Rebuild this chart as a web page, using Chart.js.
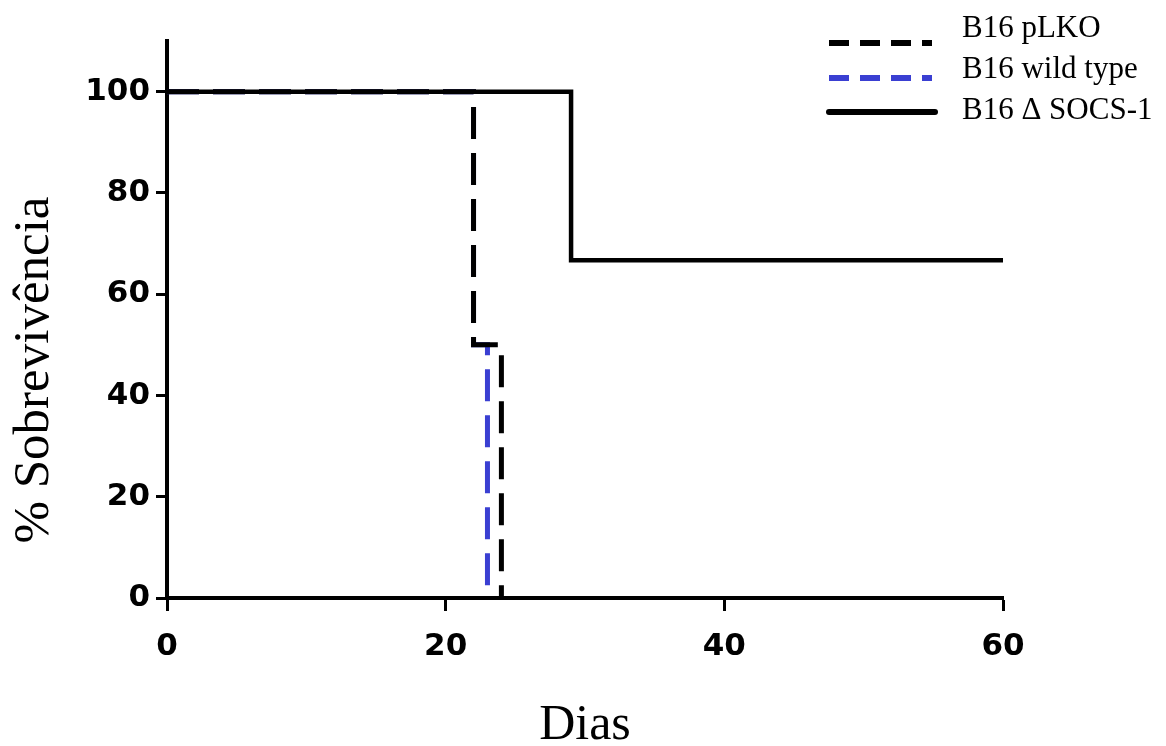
<!DOCTYPE html>
<html>
<head>
<meta charset="utf-8">
<script src="https://cdn.jsdelivr.net/npm/chart.js@4"></script>
<style>
  html, body { margin: 0; padding: 0; background: #ffffff; }
  #wrap { width: 1166px; height: 746px; position: relative; }
</style>
</head>
<body>
<div id="wrap"><canvas id="c"></canvas></div>
<script>
// ---- data (Kaplan-Meier step points: day, % survival) ----
const seriesNames = ['B16 pLKO', 'B16 wild type', 'B16 \u0394 SOCS-1'];
const pLKODays = [0, 22, 24];
const pLKOSurv = [100, 50, 0];
const wildDays = [0, 22, 23];
const wildSurv = [100, 50, 0];
const socsDays = [0, 29, 60];
const socsSurv = [100, 66.7, 66.7];
const xTicks = [0, 20, 40, 60];
const yTicks = [0, 20, 40, 60, 80, 100];
const xTitle = 'Dias';
const yTitle = '% Sobreviv\u00eancia';

const toPts = (xs, ys) => xs.map((x, i) => ({ x: x, y: ys[i] }));

const legendPlugin = {
  id: 'customLegend',
  afterDraw(chart) {
    const ctx = chart.ctx;
    const lineY = [43, 78, 112];
    const textY = [29, 70, 111];
    const legDash = [[20, 11], [20, 11], []];
    ctx.save();
    chart.data.datasets.forEach((ds, i) => {
      ctx.beginPath();
      ctx.strokeStyle = ds.borderColor;
      ctx.lineWidth = 6;
      ctx.lineCap = legDash[i].length ? 'butt' : 'round';
      ctx.setLineDash(legDash[i]);
      ctx.moveTo(829, lineY[i]);
      ctx.lineTo(i === 2 ? 935 : 932, lineY[i]);
      ctx.stroke();
      ctx.setLineDash([]);
      ctx.fillStyle = '#000';
      ctx.font = '31px "Liberation Serif", "DejaVu Serif", serif';
      ctx.textAlign = 'left';
      ctx.textBaseline = 'middle';
      ctx.fillText(ds.label, 962, textY[i]);
    });
    // y axis title
    ctx.translate(35, 370);
    ctx.rotate(-Math.PI / 2);
    ctx.font = '51px "Liberation Serif", "DejaVu Serif", serif';
    ctx.textAlign = 'center';
    ctx.textBaseline = 'middle';
    ctx.fillStyle = '#000';
    ctx.fillText(yTitle, 0, 0);
    ctx.restore();
  }
};

const tickFont = { family: '"DejaVu Sans", "Liberation Sans", sans-serif', size: 31, weight: 'bold' };

new Chart(document.getElementById('c'), {
  type: 'line',
  data: {
    datasets: [
      {
        label: seriesNames[0],
        data: toPts(pLKODays, pLKOSurv),
        borderColor: '#000000',
        borderWidth: 5,
        borderDash: [32, 14],
        stepped: 'before',
        pointRadius: 0,
        fill: false,
        order: 1
      },
      {
        label: seriesNames[1],
        data: toPts(wildDays, wildSurv),
        borderColor: '#3a3fd2',
        borderWidth: 5,
        borderDash: [32, 14],
        stepped: 'before',
        pointRadius: 0,
        fill: false,
        order: 2
      },
      {
        label: seriesNames[2],
        data: toPts(socsDays, socsSurv),
        borderColor: '#000000',
        borderWidth: 4.5,
        stepped: 'before',
        pointRadius: 0,
        fill: false,
        order: 0
      }
    ]
  },
  options: {
    responsive: true,
    maintainAspectRatio: false,
    animation: false,
    layout: { padding: { left: 0, right: 163, top: 41, bottom: 0 } },
    plugins: {
      legend: { display: false },
      tooltip: { enabled: false },
      title: { display: false }
    },
    scales: {
      x: {
        type: 'linear',
        min: 0,
        max: 60,
        afterFit(s) { s.height = 148; },
        afterBuildTicks(s) { s.ticks = xTicks.map(v => ({ value: v })); },
        ticks: { font: tickFont, color: '#000', padding: 17, maxRotation: 0 },
        grid: { drawOnChartArea: false, drawTicks: true, tickLength: 13, tickWidth: 3, tickColor: '#000' },
        border: { display: true, width: 4, color: '#000' },
        title: {
          display: true,
          text: xTitle,
          color: '#000',
          font: { family: '"Liberation Serif", "DejaVu Serif", serif', size: 50, lineHeight: 1 },
          padding: { top: 0, bottom: -5 }
        }
      },
      y: {
        type: 'linear',
        min: 0,
        max: 110,
        afterFit(s) { s.width = 167; },
        afterBuildTicks(s) { s.ticks = yTicks.map(v => ({ value: v })); },
        ticks: { font: tickFont, color: '#000', padding: 6 },
        grid: { drawOnChartArea: false, drawTicks: true, tickLength: 11, tickWidth: 3, tickColor: '#000' },
        border: { display: true, width: 4, color: '#000' }
      }
    }
  },
  plugins: [legendPlugin]
});
</script>
</body>
</html>
